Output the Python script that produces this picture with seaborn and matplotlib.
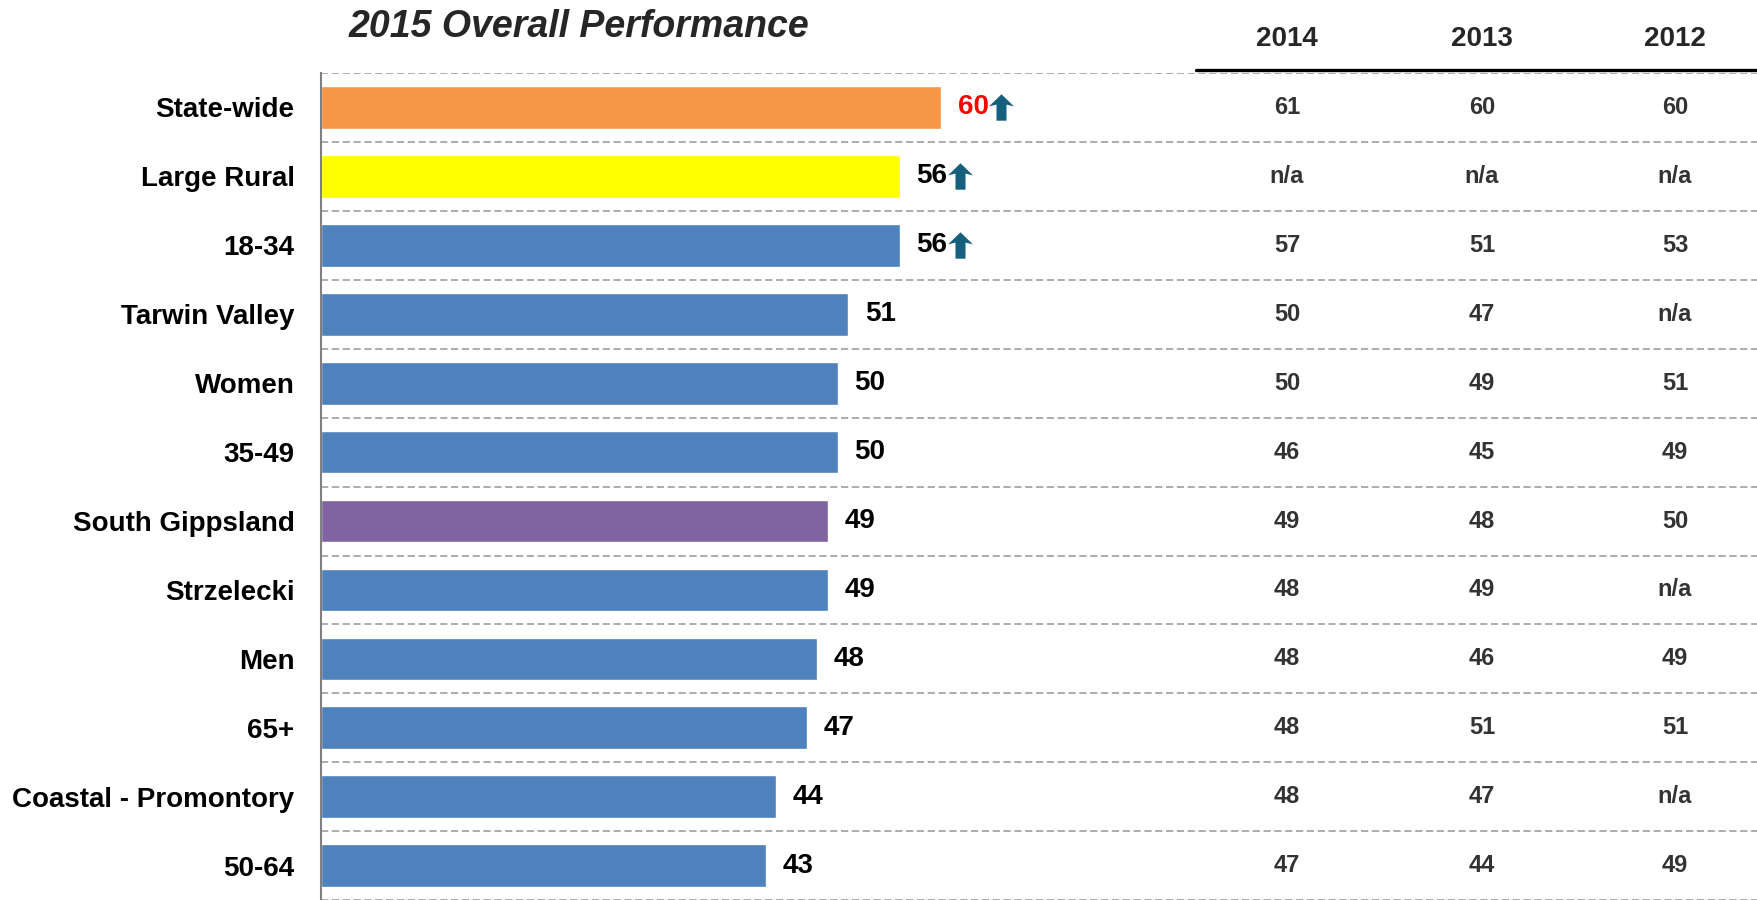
import numpy as np
import matplotlib
matplotlib.use('Agg')
import matplotlib.pyplot as plt
from matplotlib.path import Path
from matplotlib.lines import Line2D
from matplotlib import transforms
import seaborn as sns

# data
labels = ['State-wide', 'Large Rural', '18-34', 'Tarwin Valley', 'Women', '35-49',
          'South Gippsland', 'Strzelecki', 'Men', '65+', 'Coastal - Promontory', '50-64']
scores_2015 = [60, 56, 56, 51, 50, 50, 49, 49, 48, 47, 44, 43]
col_2014 = ['61', 'n/a', '57', '50', '50', '46', '49', '48', '48', '48', '48', '47']
col_2013 = ['60', 'n/a', '51', '47', '49', '45', '48', '49', '46', '51', '47', '44']
col_2012 = ['60', 'n/a', '53', 'n/a', '51', '49', '50', 'n/a', '49', '51', 'n/a', '49']
years = ['2014', '2013', '2012']
sig_up = ['State-wide', 'Large Rural', '18-34']

bar_colors = {lab: '#4F81BD' for lab in labels}
bar_colors['State-wide'] = '#F79646'
bar_colors['Large Rural'] = '#FFFF00'
bar_colors['South Gippsland'] = '#8064A2'

sns.set_theme(style='white')
plt.rcParams['font.family'] = ['Liberation Sans', 'DejaVu Sans']

fig = plt.figure(figsize=(17.58, 9), dpi=100)
ax = fig.add_axes([321 / 1758, -0.004, 1 - 321 / 1758, (900 - 73) / 900 + 0.004])

sns.barplot(x=scores_2015, y=labels, hue=labels, palette=bar_colors, orient='h',
            width=0.62, legend=False, saturation=1, ax=ax)

n = len(labels)
ax.set_xlim(0, 139)
ax.set_ylim(n - 0.5 + 0.05, -0.5)
ax.set_xticks([])
ax.set_xlabel('')
ax.set_ylabel('')
for s in ['top', 'right', 'bottom']:
    ax.spines[s].set_visible(False)
ax.spines['left'].set_color('#808080')
ax.spines['left'].set_linewidth(1.5)
ax.tick_params(axis='y', which='major', length=0, pad=19, labelsize=20)
for t in ax.get_yticklabels():
    t.set_fontweight('bold')
    t.set_color('black')

# row separators
ax.set_yticks(np.arange(-0.5, n, 1), minor=True)
ax.tick_params(axis='y', which='minor', length=5, width=1.2, color='#808080', direction='out')
ax.grid(axis='y', which='minor', color='#A6A6A6', linestyle=(0, (4, 2)), linewidth=1.3)
ax.grid(axis='y', which='major', visible=False)
ax.set_axisbelow(True)

# value labels
for i, v in enumerate(scores_2015):
    ax.annotate(str(v), xy=(v, i), xytext=(12, 0), textcoords='offset points',
                va='center', ha='left', fontsize=20, fontweight='bold',
                color='#FF0000' if labels[i] == 'State-wide' else 'black')

# significance arrows
arrow = Path([(0, 1), (0.95, 0.08), (0.38, 0.22), (0.38, -1), (-0.38, -1),
              (-0.38, 0.22), (-0.95, 0.08), (0, 1)],
             [Path.MOVETO] + [Path.LINETO] * 6 + [Path.CLOSEPOLY])
shift = ax.transData + transforms.ScaledTranslation(0.6, 0, fig.dpi_scale_trans)
for i, lab in enumerate(labels):
    if lab in sig_up:
        ax.plot(scores_2015[i], i, marker=arrow, markersize=19, color='#17607D',
                markeredgewidth=0, transform=shift, clip_on=False)

# trend table
blend = transforms.blended_transform_factory(fig.transFigure, ax.transData)
col_x = [1287 / 1758, 1482 / 1758, 1675 / 1758]
for cx, yr, col in zip(col_x, years, [col_2014, col_2013, col_2012]):
    fig.text(cx, 1 - 39 / 900, yr, ha='center', va='center', fontsize=20,
             fontweight='bold', color='#262626')
    for i, val in enumerate(col):
        ax.text(cx, i, val, transform=blend, ha='center', va='center', fontsize=17,
                fontweight='bold', color='#333333', clip_on=False)

fig.add_artist(Line2D([1196 / 1758, 1], [1 - 69.5 / 900] * 2, color='black', linewidth=2.4,
                      transform=fig.transFigure))

fig.text(579 / 1758, 1 - 27 / 900, '2015 Overall Performance', ha='center', va='center',
         fontsize=27, fontweight='bold', fontstyle='italic', color='#262626')

fig.savefig('out.png', dpi=100)
